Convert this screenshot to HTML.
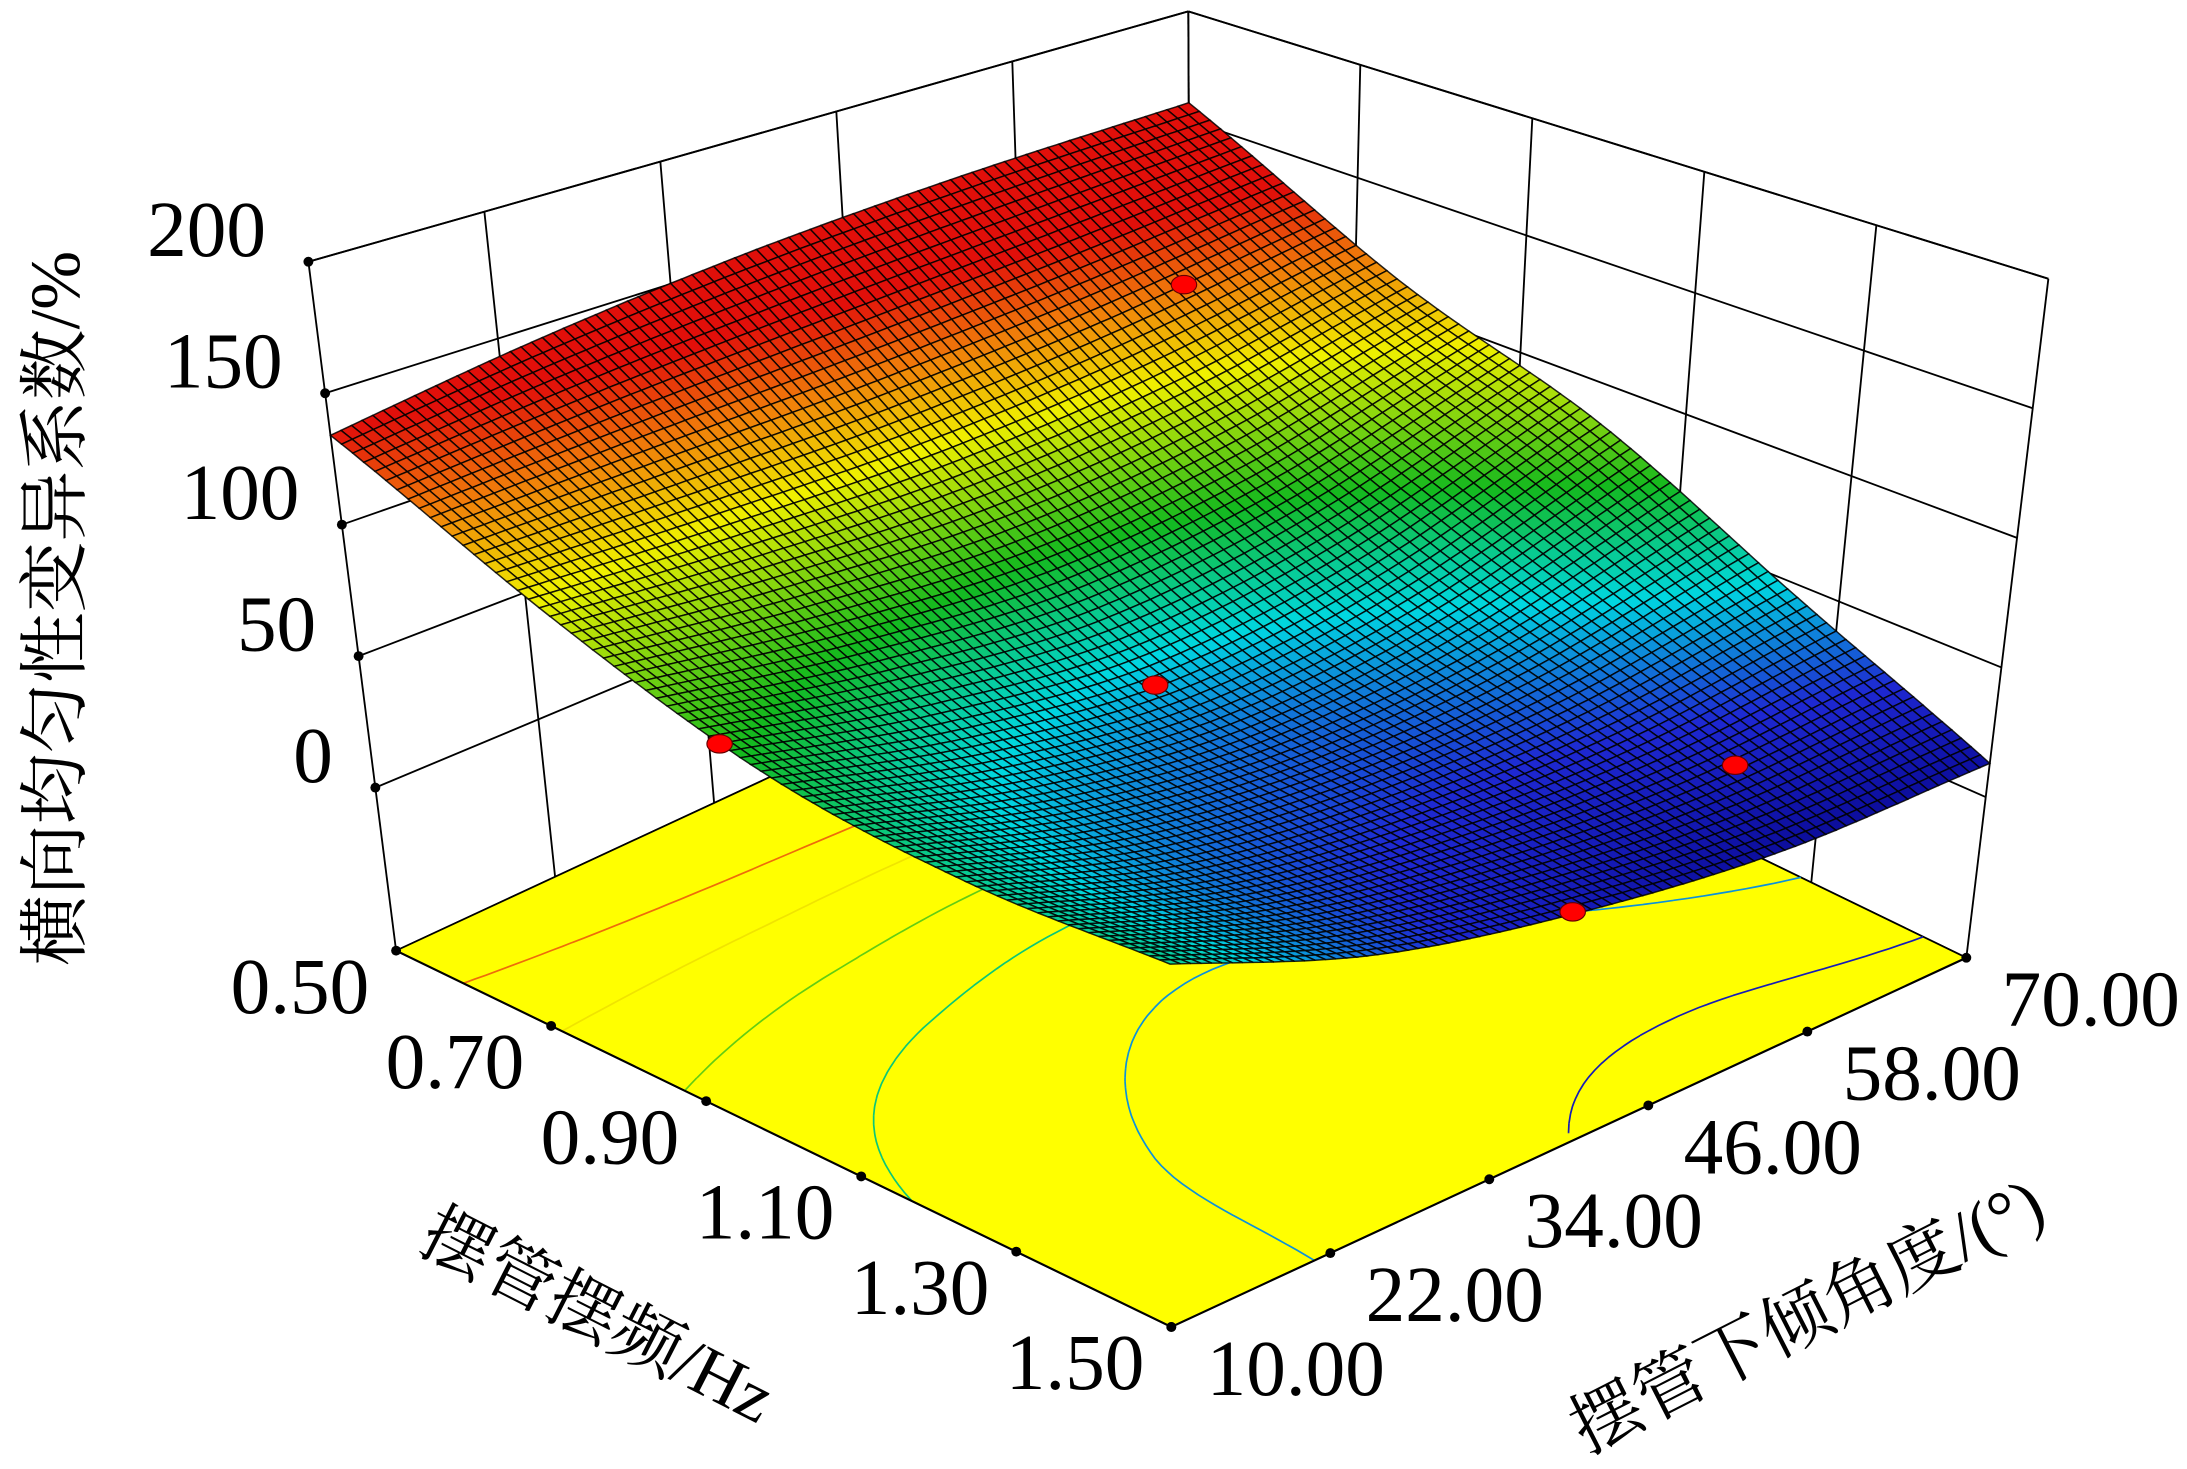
<!DOCTYPE html>
<html><head><meta charset="utf-8"><style>
html,body{margin:0;padding:0;background:#fff;}
svg{display:block;}
text{font-family:"Liberation Serif","Noto Serif CJK SC",serif;fill:#000;}
</style></head><body>
<svg id="chart" width="2187" height="1469" viewBox="0 0 1546 1038.4" xmlns="http://www.w3.org/2000/svg">
<g id="walls"></g>
<polygon id="floor" fill="#ffff00" stroke="#000" stroke-width="1.2"/>
<g id="contours"></g>
<g id="surf"></g>
<g id="pts"></g>
<g id="axes"></g>
<text x="0" y="0" font-size="50" text-anchor="middle" transform="translate(56,430) rotate(-90)">横向均匀性变异系数/%</text>
<text x="0" y="0" font-size="50" text-anchor="middle" transform="translate(415,945) rotate(27)">摆管摆频/Hz</text>
<text x="0" y="0" font-size="50" text-anchor="middle" transform="translate(1285,945) rotate(-27)">摆管下倾角度/(°)</text>
</svg>
<script>
const freqTicks=["0.50","0.70","0.90","1.10","1.30","1.50"];
const angleTicks=["10.00","22.00","34.00","46.00","58.00","70.00"];
const zTicks=[0,50,100,150,200];
const contourLevels=[20,40,60,80,100,120];
const zGrid=[
 [134,145,153,157,158],
 [95,90,88,95,112],
 [68,52,44,55,83],
 [58,38,30,32,45],
 [58,34,20,12,13]];
const ptU=[0.45,0.5,0.97,0.98,0.25];
const ptV=[0.0,0.47,0.52,0.70,0.75];
const ptZ=[72,45,14,47,140];
const ZMIN=-62,ZMAX=200;
const L=[280,672],B=[842,411],F=[828,938],R=[1390,677];
const hL=[-62,-487],hB=[-2,-403],hR=[58,-480],hF=[-2,-560];
const NS="http://www.w3.org/2000/svg";
function bl(a,b,c,d,u,v){return [0,1].map(k=>a[k]*(1-u)*(1-v)+b[k]*(1-u)*v+c[k]*u*(1-v)+d[k]*u*v);}
function P(u,v,z){const f=bl(L,B,F,R,u,v),h=bl(hL,hB,hF,hR,u,v);const t=(z-ZMIN)/(ZMAX-ZMIN);return [f[0]+h[0]*t,f[1]+h[1]*t];}
function cr(p0,p1,p2,p3,t){return 0.5*((2*p1)+(-p0+p2)*t+(2*p0-5*p1+4*p2-p3)*t*t+(-p0+3*p1-3*p2+p3)*t*t*t);}
function g(i,j){const n=zGrid.length-1;
 if(i<0)return 2*g(0,j)-g(1,j); if(i>n)return 2*g(n,j)-g(n-1,j);
 if(j<0)return 2*g(i,0)-g(i,1); if(j>n)return 2*g(i,n)-g(i,n-1);
 return zGrid[i][j];}
function zAt(u,v){const n=zGrid.length-1;let i=Math.min(Math.floor(u*n),n-1),j=Math.min(Math.floor(v*n),n-1);const a=u*n-i,b=v*n-j;
 const rows=[-1,0,1,2].map(di=>cr(g(i+di,j-1),g(i+di,j),g(i+di,j+1),g(i+di,j+2),b));
 return cr(rows[0],rows[1],rows[2],rows[3],a);}
function el(tag,attrs,parent){const e=document.createElementNS(NS,tag);for(const k in attrs)e.setAttribute(k,attrs[k]);parent.appendChild(e);return e;}
function line(p,q,parent,w){return el('line',{x1:p[0],y1:p[1],x2:q[0],y2:q[1],stroke:'#000','stroke-width':w||1.3},parent);}
const walls=document.getElementById('walls');
for(let k=0;k<=5;k++){const v=k/5;const gl=line(P(0,v,ZMIN),P(0,v,ZMAX),walls);}
for(let k=0;k<=5;k++){const u=k/5;const gl=line(P(u,1,ZMIN),P(u,1,ZMAX),walls);}
zTicks.concat([ZMIN,ZMAX]).forEach(z=>{
 const a=line(P(0,0,z),P(0,1,z),walls);
 const b=line(P(0,1,z),P(1,1,z),walls);});
document.getElementById('floor').setAttribute('points',[L,B,R,F].map(p=>p.join(',')).join(' '));
function color(z){const stops=[[10,[10,10,150]],[28,[30,40,210]],[48,[0,215,225]],[70,[20,185,30]],[98,[240,240,0]],[118,[240,120,10]],[135,[225,15,10]]];
 if(z<=stops[0][0])return 'rgb(10,10,150)';
 for(let i=0;i<stops.length-1;i++){if(z<=stops[i+1][0]){const s=(z-stops[i][0])/(stops[i+1][0]-stops[i][0]);const a=stops[i][1],b=stops[i+1][1];return 'rgb('+a.map((x,k)=>Math.round(x+(b[k]-x)*s)).join(',')+')';}}
 return 'rgb(225,15,10)';}
const cg=document.getElementById('contours');const M=80;
contourLevels.forEach(lv=>{let d='';
 for(let i=0;i<M;i++)for(let j=0;j<M;j++){
  const c=[[i,j],[i,j+1],[i+1,j+1],[i+1,j]].map(([a,b])=>[a/M,b/M,zAt(a/M,b/M)]);const segs=[];
  for(let e=0;e<4;e++){const p=c[e],q=c[(e+1)%4];if((p[2]-lv)*(q[2]-lv)<0){const t=(lv-p[2])/(q[2]-p[2]);segs.push(P(p[0]+(q[0]-p[0])*t,p[1]+(q[1]-p[1])*t,ZMIN));}}
  if(segs.length>=2)d+='M'+segs[0][0].toFixed(1)+' '+segs[0][1].toFixed(1)+'L'+segs[1][0].toFixed(1)+' '+segs[1][1].toFixed(1);}
 const p=el('path',{d:d,stroke:color(lv),'stroke-width':1.2,fill:'none'},cg);
 
 });
const surf=document.getElementById('surf');const N=80;const cells=[];
for(let i=0;i<N;i++)for(let j=0;j<N;j++)cells.push([i,j]);
cells.sort((a,b)=>(a[0]-a[1])-(b[0]-b[1]));
cells.forEach(([i,j])=>{const u0=i/N,u1=(i+1)/N,v0=j/N,v1=(j+1)/N;
 const pts=[[u0,v0],[u0,v1],[u1,v1],[u1,v0]].map(([u,v])=>P(u,v,zAt(u,v)));
 const zc=zAt((u0+u1)/2,(v0+v1)/2);
 const p=el('polygon',{points:pts.map(q=>q[0].toFixed(1)+','+q[1].toFixed(1)).join(' '),fill:color(zc),stroke:'rgba(0,0,0,0.85)','stroke-width':1.05},surf);
 
 });
const pg=document.getElementById('pts');
ptU.forEach((u,k)=>{const q=P(u,ptV[k],ptZ[k]);const c=el('ellipse',{cx:q[0],cy:q[1],rx:9,ry:6.5,fill:'#ff0000',stroke:'#600','stroke-width':0.8},pg);
 
 });
const ax=document.getElementById('axes');
line(L,F,ax,1.5);line(F,R,ax,1.5);
freqTicks.forEach((t,k)=>{const u=k/5;const q=P(u,0,ZMIN);
 const d=el('circle',{cx:q[0],cy:q[1],r:3.5,fill:'#000'},ax);
 const tx=el('text',{x:q[0]-68,y:q[1]+44,'font-size':56,'text-anchor':'middle'},ax);tx.textContent=t;
 });
angleTicks.forEach((t,k)=>{const v=k/5;const q=P(1,v,ZMIN);
 const d=el('circle',{cx:q[0],cy:q[1],r:3.5,fill:'#000'},ax);
 const tx=el('text',{x:q[0]+88,y:q[1]+48,'font-size':56,'text-anchor':'middle'},ax);tx.textContent=t;
 });
zTicks.forEach(z=>{const q=P(0,0,z);
 const d=el('circle',{cx:q[0],cy:q[1],r:3.5,fill:'#000'},ax);
 const tx=el('text',{x:q[0]-30,y:q[1]-4,'font-size':56,'text-anchor':'end'},ax);tx.textContent=String(z);
 });
</script>
</body></html>
